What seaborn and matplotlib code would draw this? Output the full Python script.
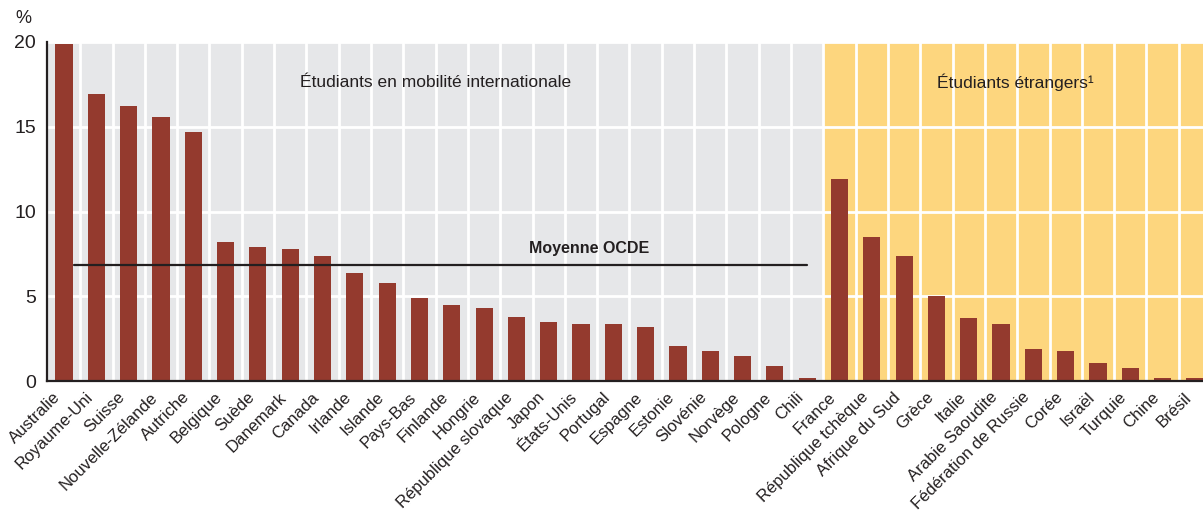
import numpy as np
import pandas as pd
import matplotlib
matplotlib.use("Agg")
import matplotlib.pyplot as plt
import matplotlib.transforms as mtransforms
import seaborn as sns

pays = [
    "Australie", "Royaume-Uni", "Suisse", "Nouvelle-Zélande", "Autriche",
    "Belgique", "Suède", "Danemark", "Canada", "Irlande", "Islande",
    "Pays-Bas", "Finlande", "Hongrie", "République slovaque", "Japon",
    "États-Unis", "Portugal", "Espagne", "Estonie", "Slovénie", "Norvège",
    "Pologne", "Chili",
    "France", "République tchèque", "Afrique du Sud", "Grèce", "Italie",
    "Arabie Saoudite", "Fédération de Russie", "Corée", "Israël", "Turquie",
    "Chine", "Brésil",
]
valeurs = [
    19.9, 16.9, 16.2, 15.6, 14.7,
    8.2, 7.9, 7.8, 7.4, 6.4, 5.8,
    4.9, 4.5, 4.3, 3.8, 3.5,
    3.4, 3.4, 3.2, 2.1, 1.8, 1.5,
    0.9, 0.2,
    11.9, 8.5, 7.4, 5.0, 3.7,
    3.4, 1.9, 1.8, 1.1, 0.8,
    0.2, 0.2,
]
n_mobilite = 24
moyenne_ocde = 6.85
yticks = [0, 5, 10, 15, 20]

df = pd.DataFrame({"pays": pays, "valeur": valeurs})

sns.set_style("white")
plt.rcParams["font.family"] = ["Liberation Sans", "DejaVu Sans"]

fig = plt.figure(figsize=(12.03, 5.11), dpi=100)
ax = fig.add_axes([0.039, 0.254, 0.961, 0.664])

ax.axvspan(-0.6, n_mobilite - 0.5, color="#E6E7E9", zorder=0, lw=0)
ax.axvspan(n_mobilite - 0.5, len(pays), color="#FDD67E", zorder=0, lw=0)

sns.barplot(data=df, x="pays", y="valeur", color="#943A2E", width=0.53,
            saturation=1, linewidth=0, ax=ax, zorder=2)

ax.plot([0.3, n_mobilite - 1], [moyenne_ocde, moyenne_ocde], color="#231F20",
        lw=1.6, zorder=3)
ax.text(16.25, moyenne_ocde + 0.55, "Moyenne OCDE", ha="center", va="bottom",
        fontsize=11.5, fontweight="bold", color="#231F20")

ax.text(11.5, 17.6, "Étudiants en mobilité internationale", ha="center",
        va="center", fontsize=12.5, color="#231F20")
ax.text(29.45, 17.6, "Étudiants étrangers¹", ha="center", va="center",
        fontsize=12.5, color="#231F20")

ax.set_xlim(-0.53, 35.25)
ax.set_ylim(0, 20)
ax.set_yticks(yticks)
ax.set_yticklabels([str(v) for v in yticks], fontsize=14, color="#231F20")
ax.set_xticks(range(len(pays)))
ax.set_xticklabels([""] * len(pays))

# rotated country labels, pulled slightly left of the bar centres
shift = mtransforms.ScaledTranslation(-8 / 72, -6 / 72, fig.dpi_scale_trans)
trans = ax.get_xaxis_transform() + shift
for i, nom in enumerate(pays):
    ax.text(i, 0, nom, transform=trans, rotation=45, ha="right", va="top",
            rotation_mode="anchor", fontsize=12, color="#231F20")

ax.set_xticks(np.arange(0.5, len(pays) - 1, 1), minor=True)
ax.tick_params(axis="x", which="major", length=0)
ax.tick_params(axis="x", which="minor", direction="in", length=5,
               color="#555555", width=1)
ax.tick_params(axis="y", direction="in", length=7, width=1, color="#231F20",
               pad=8)
ax.set_xlabel("")
ax.set_ylabel("")

ax.set_axisbelow(True)
ax.grid(axis="y", which="major", color="white", lw=2, zorder=1)
ax.grid(axis="x", which="minor", color="white", lw=2, zorder=1)
ax.grid(axis="x", which="major", visible=False)
for sp in ["top", "right"]:
    ax.spines[sp].set_visible(False)
for sp in ["left", "bottom"]:
    ax.spines[sp].set_color("#231F20")
    ax.spines[sp].set_linewidth(1.6)
    ax.spines[sp].set_zorder(4)

fig.text(0.013, 0.955, "%", fontsize=13, color="#231F20")

fig.savefig("out.png", dpi=100)
plt.close(fig)
